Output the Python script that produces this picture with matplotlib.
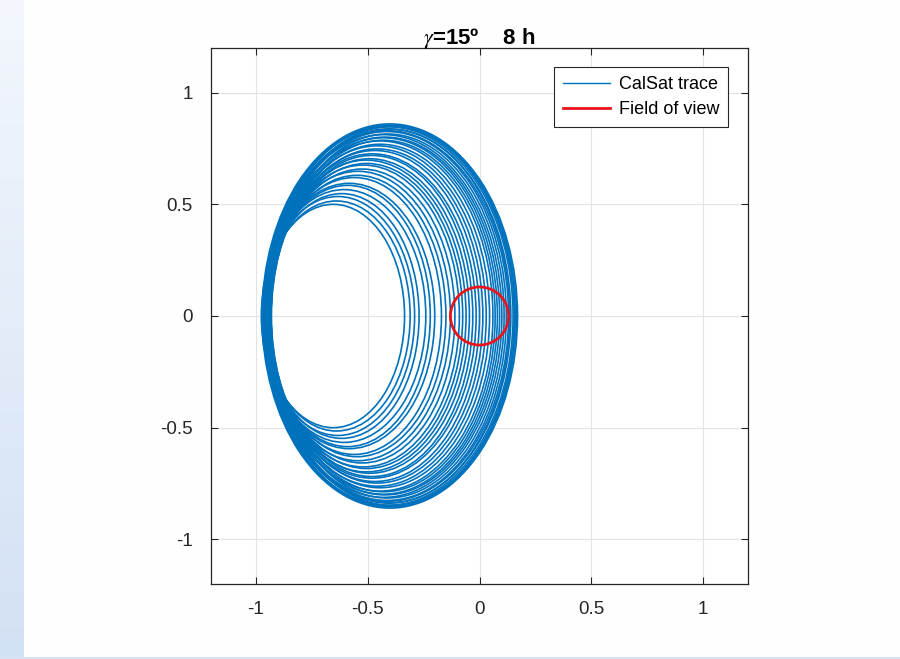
import numpy as np
import matplotlib
matplotlib.use("Agg")
import matplotlib.pyplot as plt
from matplotlib.patches import Ellipse, Circle, Rectangle
from matplotlib.lines import Line2D
from matplotlib.colors import LinearSegmentedColormap

plt.rcParams['font.family'] = ['Liberation Sans', 'DejaVu Sans']
plt.rcParams['mathtext.fontset'] = 'stix'

# CalSat trace loops: left edge, right edge, half height
loop_left = [-0.972, -0.968, -0.975, -0.962, -0.970, -0.958, -0.965, -0.950, -0.945,
             -0.955, -0.940, -0.948, -0.935, -0.952, -0.938, -0.932, -0.945, -0.936,
             -0.930, -0.942, -0.934, -0.950, -0.931, -0.940, -0.936, -0.955, -0.933,
             -0.945, -0.960, -0.938, -0.950, -0.965, -0.942, -0.958, -0.968, -0.972]
loop_right = [-0.335, -0.310, -0.290, -0.270, -0.240, -0.220, -0.200, -0.170, -0.150,
              -0.130, -0.110, -0.090, -0.075, -0.060, -0.045, -0.030, -0.015, 0.000,
              0.015, 0.030, 0.045, 0.060, 0.070, 0.080, 0.090, 0.100, 0.110,
              0.120, 0.130, 0.135, 0.140, 0.150, 0.155, 0.160, 0.165, 0.170]
loop_half_h = [0.500, 0.515, 0.535, 0.548, 0.566, 0.585, 0.594, 0.620, 0.630,
               0.648, 0.658, 0.676, 0.683, 0.698, 0.704, 0.719, 0.726, 0.741,
               0.748, 0.762, 0.769, 0.784, 0.787, 0.798, 0.801, 0.812, 0.815,
               0.826, 0.830, 0.836, 0.838, 0.847, 0.848, 0.854, 0.855, 0.860]

fov_center = (0.0, 0.0)
fov_radius = 0.13

ticks = [-1, -0.5, 0, 0.5, 1]
tick_labels = ['-1', '-0.5', '0', '0.5', '1']

blue = '#0072BD'
red = '#E8141B'

fig = plt.figure(figsize=(9, 6.59), dpi=100)
fig.patch.set_facecolor('#fefefe')

# light blue slide edge on the left and bottom
strip = fig.add_axes([0, 0, 24 / 900, 1])
grad = np.linspace(0, 1, 256).reshape(-1, 1)
cm = LinearSegmentedColormap.from_list('s', ['#f3f7fd', '#d3e1f4'])
strip.imshow(grad, aspect='auto', cmap=cm, extent=[0, 1, 0, 1], origin='upper')
strip.axis('off')
fig.add_artist(Rectangle((0, 0), 1, 2 / 659, transform=fig.transFigure,
                         color='#d6e4f6', lw=0))

ax = fig.add_axes([211 / 900, 75 / 659, 537 / 900, 536 / 659])
for l, r, h in zip(loop_left, loop_right, loop_half_h):
    ax.add_patch(Ellipse(((l + r) / 2, 0), r - l, 2 * h, fill=False,
                         ec=blue, lw=1.2))
ax.add_patch(Circle(fov_center, fov_radius, fill=False, ec=red, lw=2.0, zorder=5))

ax.set_xlim(-1.2, 1.2)
ax.set_ylim(-1.2, 1.2)
ax.set_xticks(ticks)
ax.set_xticklabels(tick_labels)
ax.set_yticks(ticks)
ax.set_yticklabels(tick_labels)
ax.grid(True, color='#e3e3e3', lw=0.8)
ax.set_axisbelow(True)
ax.tick_params(direction='in', length=5, width=0.8, colors='#262626',
               labelsize=13.5, top=True, right=True)
ax.tick_params(axis='x', pad=12)
ax.tick_params(axis='y', pad=13)
for s in ax.spines.values():
    s.set_color('#262626')
    s.set_linewidth(0.9)

ax.set_title(r'$\gamma$=15º    8 h', fontsize=16, fontweight='bold', pad=3)

handles = [Line2D([], [], color=blue, lw=1.0), Line2D([], [], color=red, lw=2.0)]
leg = ax.legend(handles, ['CalSat trace', 'Field of view'], loc='upper right',
                fontsize=13, fancybox=False, framealpha=1, edgecolor='#262626',
                borderpad=0.5, handlelength=2.6, handletextpad=0.5,
                borderaxespad=0, bbox_to_anchor=(0.963, 0.9646),
                labelspacing=0.45)
leg.get_frame().set_linewidth(0.8)

fig.savefig('out.png', dpi=100)
